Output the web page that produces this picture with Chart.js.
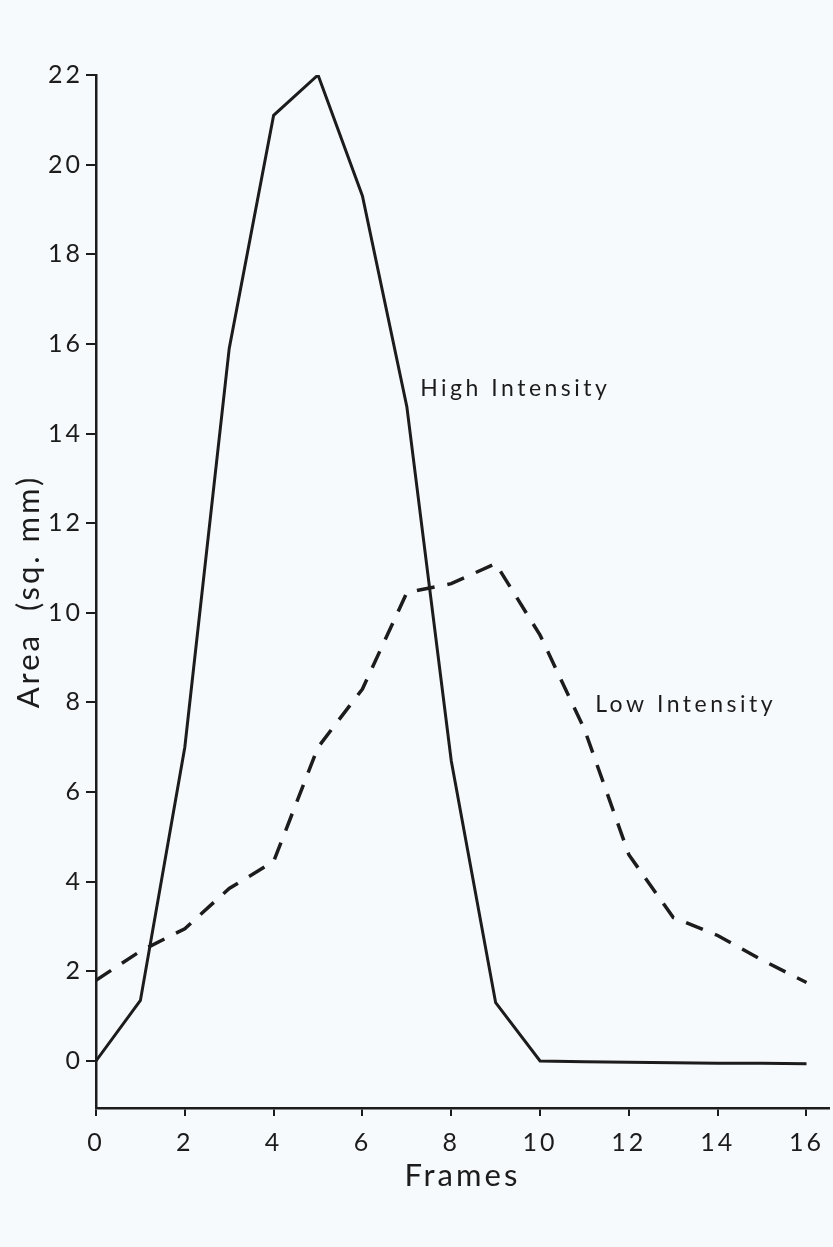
<!DOCTYPE html>
<html>
<head>
<meta charset="utf-8">
<script src="https://cdn.jsdelivr.net/npm/chart.js@4/dist/chart.umd.min.js"></script>
<style>
  html, body { margin: 0; padding: 0; background: #f7fafc; }
  #wrap { position: relative; width: 833px; height: 1247px; }
</style>
</head>
<body>
<div id="wrap"><canvas id="area" width="833" height="1247"></canvas></div>
<script>
// frames on the x axis
var frames = [0, 1, 2, 3, 4, 5, 6, 7, 8, 9, 10, 11, 12, 13, 14, 15, 16];
// area (sq. mm)
var highIntensity = [0, 1.35, 7.0, 15.9, 21.1, 22.0, 19.3, 14.6, 6.7, 1.3, 0, -0.02, -0.03, -0.04, -0.05, -0.05, -0.06];
var lowIntensity = [1.8, 2.45, 2.95, 3.85, 4.45, 7.0, 8.3, 10.45, 10.65, 11.1, 9.5, 7.4, 4.6, 3.2, 2.8, 2.25, 1.75];
var xTicks = [0, 2, 4, 6, 8, 10, 12, 14, 16];
var yTicks = [0, 2, 4, 6, 8, 10, 12, 14, 16, 18, 20, 22];
// curve labels, placed in data units
var curveLabels = ['High Intensity', 'Low Intensity'];
var curveLabelX = [7.3, 11.24];
var curveLabelY = [14.84, 7.79];

var ink = '#1c1c1c';
var fontName = 'Lato, "DejaVu Sans", sans-serif';

function toPoints(ys) {
    return frames.map(function (f, i) { return { x: f, y: ys[i] }; });
}

var labelPlugin = {
    id: 'curveLabels',
    beforeDraw: function (chart) {
        chart.ctx.letterSpacing = '3px';
    },
    afterDatasetsDraw: function (chart) {
        var ctx = chart.ctx;
        var xs = chart.scales.x, ys = chart.scales.y;
        ctx.save();
        ctx.letterSpacing = '3.5px';
        ctx.fillStyle = ink;
        ctx.font = '400 23px ' + fontName;
        ctx.textBaseline = 'alphabetic';
        ctx.textAlign = 'left';
        curveLabels.forEach(function (t, i) {
            ctx.fillText(t, xs.getPixelForValue(curveLabelX[i]), ys.getPixelForValue(curveLabelY[i]));
        });
        ctx.restore();
    }
};

var chart = new Chart(document.getElementById('area'), {
    type: 'line',
    data: {
        datasets: [{
            label: 'High Intensity',
            data: toPoints(highIntensity),
            borderColor: ink,
            borderWidth: 3,
            pointRadius: 0,
            tension: 0
        }, {
            label: 'Low Intensity',
            data: toPoints(lowIntensity),
            borderColor: ink,
            borderWidth: 3.5,
            borderDash: [18, 13],
            pointRadius: 0,
            tension: 0
        }]
    },
    options: {
        responsive: false,
        animation: false,
        devicePixelRatio: 1,
        layout: { padding: { top: 75, right: 0, bottom: 0, left: 0 } },
        plugins: {
            legend: { display: false },
            tooltip: { enabled: false }
        },
        scales: {
            x: {
                type: 'linear',
                min: 0,
                max: 16.5,
                afterBuildTicks: function (scale) {
                    scale.ticks = xTicks.map(function (v) { return { value: v }; });
                },
                afterFit: function (scale) { scale.height = 139; },
                grid: { drawOnChartArea: false, color: ink, tickLength: 8, lineWidth: 2 },
                border: { display: true, color: ink, width: 2.5 },
                ticks: {
                    color: ink,
                    padding: 12,
                    maxRotation: 0,
                    font: { family: fontName, size: 25, weight: '400' }
                },
                title: {
                    display: true,
                    text: 'Frames',
                    color: ink,
                    padding: { top: 0, bottom: 52 },
                    font: { family: fontName, size: 31, weight: '400' }
                }
            },
            y: {
                type: 'linear',
                min: -1.05,
                max: 22,
                afterBuildTicks: function (scale) {
                    scale.ticks = yTicks.map(function (v) { return { value: v }; });
                },
                afterFit: function (scale) { scale.width = 96; },
                grid: { drawOnChartArea: false, color: ink, tickLength: 10, lineWidth: 2 },
                border: { display: true, color: ink, width: 2.5 },
                ticks: {
                    color: ink,
                    padding: 3,
                    font: { family: fontName, size: 25, weight: '400' }
                },
                title: {
                    display: true,
                    text: 'Area  (sq. mm)',
                    color: ink,
                    padding: { top: 10, bottom: 0 },
                    font: { family: fontName, size: 31, weight: '400' }
                }
            }
        }
    },
    plugins: [labelPlugin]
});
</script>
</body>
</html>
